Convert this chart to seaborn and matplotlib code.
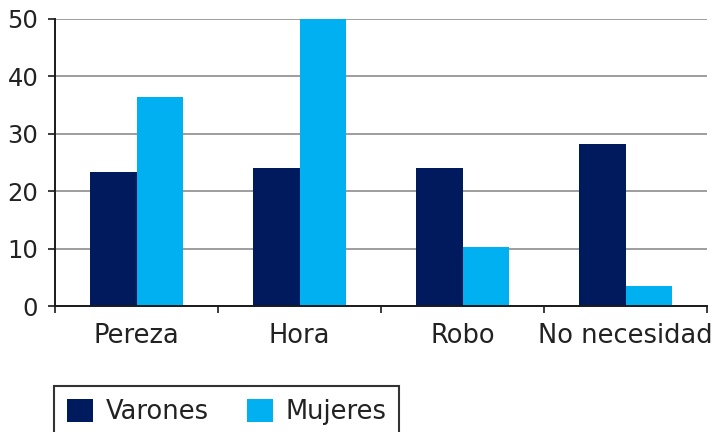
import matplotlib
matplotlib.use("Agg")
import matplotlib.pyplot as plt
import seaborn as sns
import pandas as pd
import numpy as np

categories = ["Pereza", "Hora", "Robo", "No necesidad"]
varones = [23.4, 24.0, 24.0, 28.3]
mujeres = [36.4, 50.0, 10.2, 3.4]
series_names = ["Varones", "Mujeres"]
colors = ["#001A5E", "#00B0F0"]
y_ticks = [0, 10, 20, 30, 40, 50]

df = pd.DataFrame({
    "cat": categories * 2,
    "serie": [series_names[0]] * 4 + [series_names[1]] * 4,
    "val": varones + mujeres,
})

sns.set_style("white")
plt.rcParams["font.family"] = ["DejaVu Sans"]

fig = plt.figure(figsize=(7.21, 4.32), dpi=100)
ax = fig.add_axes([55/721, 1-306/432, (707-55)/721, (306-19)/432])

sns.barplot(data=df, x="cat", y="val", hue="serie", order=categories,
            hue_order=series_names, palette=colors, width=0.565, gap=0,
            linewidth=0, saturation=1, ax=ax, legend=False, errorbar=None)

ax.set_xlim(-0.5, 3.5)
ax.set_ylim(0, 50)
ax.set_yticks(y_ticks)
ax.set_xlabel("")
ax.set_ylabel("")
ax.yaxis.grid(True, color="#8c8c8c", linewidth=1.2)
ax.set_axisbelow(True)

for s in ["top", "right"]:
    ax.spines[s].set_visible(False)
for s in ["left", "bottom"]:
    ax.spines[s].set_color("#1a1a1a")
    ax.spines[s].set_linewidth(1.4)

ax.tick_params(axis="y", length=5, width=1.2, color="#1a1a1a", labelsize=17.5, pad=7,
               labelcolor="#222222", direction="out", left=True)
ax.set_xticks(np.arange(len(categories)))
ax.set_xticklabels(categories)
ax.tick_params(axis="x", which="major", length=0, labelsize=18.5, pad=12, labelcolor="#222222")
ax.set_xticks(np.arange(-0.5, len(categories), 1.0), minor=True)
ax.tick_params(axis="x", which="minor", length=5, width=1.2, color="#1a1a1a",
               direction="out", bottom=True)

from matplotlib.patches import Patch
handles = [Patch(facecolor=c, edgecolor="none") for c in colors]
leg = fig.legend(handles, series_names, loc="upper left",
                 bbox_to_anchor=(54/721, 1-386/432), borderaxespad=0,
                 ncol=2, fontsize=18.5, handlelength=1.0, handleheight=1.0,
                 handletextpad=0.5, columnspacing=1.5, borderpad=0.5,
                 fancybox=False, framealpha=1, edgecolor="#333333")
leg.get_frame().set_linewidth(1.5)
for t in leg.get_texts():
    t.set_color("#222222")

fig.savefig("out.png", dpi=100)
